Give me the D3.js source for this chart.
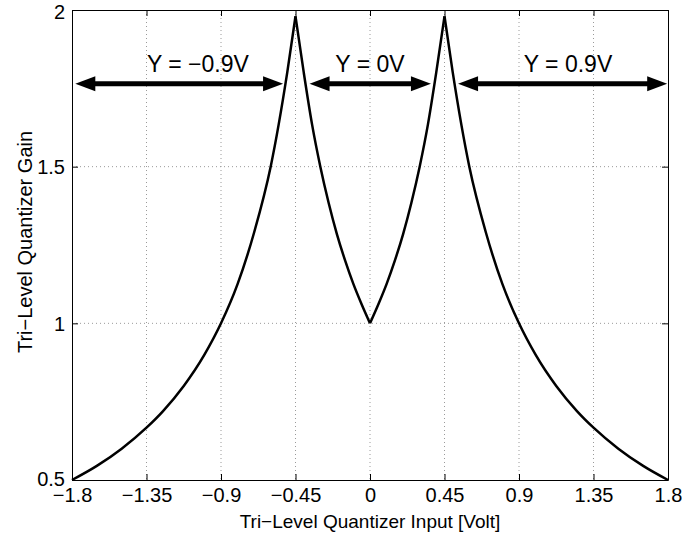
<!DOCTYPE html>
<html>
<head>
<meta charset="utf-8">
<script src="https://cdn.jsdelivr.net/npm/d3@7"></script>
<style>
  body { margin: 0; background: #fff; }
  svg text { font-family: "Liberation Sans", Arial, Helvetica, sans-serif; fill: #000; }
</style>
</head>
<body>
<div id="chart"></div>
<script>
// tick values
var xTicks = [-1.8, -1.35, -0.9, -0.45, 0, 0.45, 0.9, 1.35, 1.8];
var xTickLabels = ["\u22121.8", "\u22121.35", "\u22120.9", "\u22120.45", "0", "0.45", "0.9", "1.35", "1.8"];
var yTicks = [0.5, 1, 1.5, 2];
var yTickLabels = ["0.5", "1", "1.5", "2"];

// curve branches
var xLeftOuter = [-1.8, -1.65, -1.5, -1.35, -1.25, -1.125, -1.0, -0.9, -0.8, -0.7, -0.6, -0.5, -0.45];
var gainLeftOuter = [0.5, 0.545, 0.6, 0.667, 0.72, 0.8, 0.9, 1.0, 1.125, 1.29, 1.5, 1.8, 1.98];
var xLeftInner = [-0.45, -0.4, -0.35, -0.3, -0.25, -0.2, -0.15, -0.1, -0.05, 0];
var gainLeftInner = [1.98, 1.8, 1.635, 1.5, 1.385, 1.285, 1.2, 1.125, 1.06, 1.0];
var xRightInner = [0, 0.05, 0.1, 0.15, 0.2, 0.25, 0.3, 0.35, 0.4, 0.45];
var gainRightInner = [1.0, 1.06, 1.125, 1.2, 1.285, 1.385, 1.5, 1.635, 1.8, 1.98];
var xRightOuter = [0.45, 0.5, 0.6, 0.7, 0.8, 0.9, 1.0, 1.125, 1.25, 1.35, 1.5, 1.65, 1.8];
var gainRightOuter = [1.98, 1.8, 1.5, 1.29, 1.125, 1.0, 0.9, 0.8, 0.72, 0.667, 0.6, 0.545, 0.5];

// annotation arrows (double headed) and their labels
var arrowFrom = [-1.78, -0.365, 0.532];
var arrowTo = [-0.525, 0.368, 1.795];
var arrowLevel = 1.765;
var arrowLabels = ["Y = \u22120.9V", "Y = 0V", "Y = 0.9V"];
var arrowLabelX = [-1.04, 0, 1.196];

var margin = { top: 10, right: 14, bottom: 56, left: 72 },
    width = 682 - margin.left - margin.right,
    height = 536 - margin.top - margin.bottom;

var svg = d3.select("#chart")
    .append("svg")
    .attr("width", width + margin.left + margin.right)
    .attr("height", height + margin.top + margin.bottom)
    .append("g")
    .attr("transform", "translate(" + margin.left + "," + margin.top + ")");

var x = d3.scaleLinear().domain([-1.8, 1.8]).range([0, width]);
var y = d3.scaleLinear().domain([0.5, 2]).range([height, 0]);

// grid (dotted)
svg.append("g")
    .selectAll("line")
    .data(xTicks.slice(1, -1))
    .enter()
    .append("line")
    .attr("x1", d => x(d)).attr("x2", d => x(d))
    .attr("y1", 0).attr("y2", height)
    .attr("stroke", "#9a9a9a")
    .attr("stroke-dasharray", "1,3");
svg.append("g")
    .selectAll("line")
    .data(yTicks.slice(1, -1))
    .enter()
    .append("line")
    .attr("x1", 0).attr("x2", width)
    .attr("y1", d => y(d)).attr("y2", d => y(d))
    .attr("stroke", "#9a9a9a")
    .attr("stroke-dasharray", "1,3");

// axes, ticks pointing inward on all four sides
var fontSize = "20px";
var xAxis = svg.append("g")
    .attr("transform", "translate(0," + height + ")")
    .call(d3.axisBottom(x).tickValues(xTicks).tickSizeInner(-6).tickSizeOuter(0).tickPadding(8)
        .tickFormat((d, i) => xTickLabels[i]));
xAxis.selectAll("text").style("font-size", fontSize);
svg.append("g")
    .call(d3.axisTop(x).tickValues(xTicks).tickSizeInner(-6).tickSizeOuter(0).tickFormat(""));
var yAxis = svg.append("g")
    .call(d3.axisLeft(y).tickValues(yTicks).tickSizeInner(-6).tickSizeOuter(0).tickPadding(7)
        .tickFormat((d, i) => yTickLabels[i]));
yAxis.selectAll("text").style("font-size", fontSize)
    .attr("dy", d => d === 2 ? "0.42em" : (d === 0.5 ? "0.25em" : "0.36em"));
svg.append("g")
    .attr("transform", "translate(" + width + ",0)")
    .call(d3.axisRight(y).tickValues(yTicks).tickSizeInner(-6).tickSizeOuter(0).tickFormat(""));
svg.selectAll(".domain").attr("stroke", "#000");
svg.selectAll(".tick line").attr("stroke", "#000");

// axis titles
svg.append("text")
    .attr("text-anchor", "middle")
    .attr("x", width / 2)
    .attr("y", height + 48)
    .style("font-size", "19px")
    .text("Tri\u2212Level Quantizer Input [Volt]");
svg.append("text")
    .attr("text-anchor", "middle")
    .attr("transform", "translate(-40," + (height / 2 - 3) + ") rotate(-90)")
    .style("font-size", "20px")
    .text("Tri\u2212Level Quantizer Gain");

// gain curve, one path per branch so the cusps stay sharp
var line = d3.line()
    .x(d => x(d[0]))
    .y(d => y(d[1]))
    .curve(d3.curveMonotoneX);
var branches = [
    d3.zip(xLeftOuter, gainLeftOuter),
    d3.zip(xLeftInner, gainLeftInner),
    d3.zip(xRightInner, gainRightInner),
    d3.zip(xRightOuter, gainRightOuter)
];
svg.append("g")
    .selectAll("path")
    .data(branches)
    .enter()
    .append("path")
    .attr("fill", "none")
    .attr("stroke", "#000")
    .attr("stroke-width", 2.5)
    .attr("stroke-linejoin", "round")
    .attr("d", line);

// arrows
var headLen = 20, headHalf = 7.5;
var ay = y(arrowLevel);
arrowFrom.forEach(function (from, i) {
    var x0 = x(from), x1 = x(arrowTo[i]);
    svg.append("line")
        .attr("x1", x0 + headLen - 2).attr("x2", x1 - headLen + 2)
        .attr("y1", ay).attr("y2", ay)
        .attr("stroke", "#000")
        .attr("stroke-width", 5);
    svg.append("path")
        .attr("d", "M" + x0 + "," + ay + "L" + (x0 + headLen) + "," + (ay - headHalf) +
            "L" + (x0 + headLen) + "," + (ay + headHalf) + "Z")
        .attr("fill", "#000");
    svg.append("path")
        .attr("d", "M" + x1 + "," + ay + "L" + (x1 - headLen) + "," + (ay - headHalf) +
            "L" + (x1 - headLen) + "," + (ay + headHalf) + "Z")
        .attr("fill", "#000");
    svg.append("text")
        .attr("text-anchor", "middle")
        .attr("x", x(arrowLabelX[i]))
        .attr("y", ay - 12)
        .style("font-size", "23px")
        .text(arrowLabels[i]);
});
</script>
</body>
</html>
